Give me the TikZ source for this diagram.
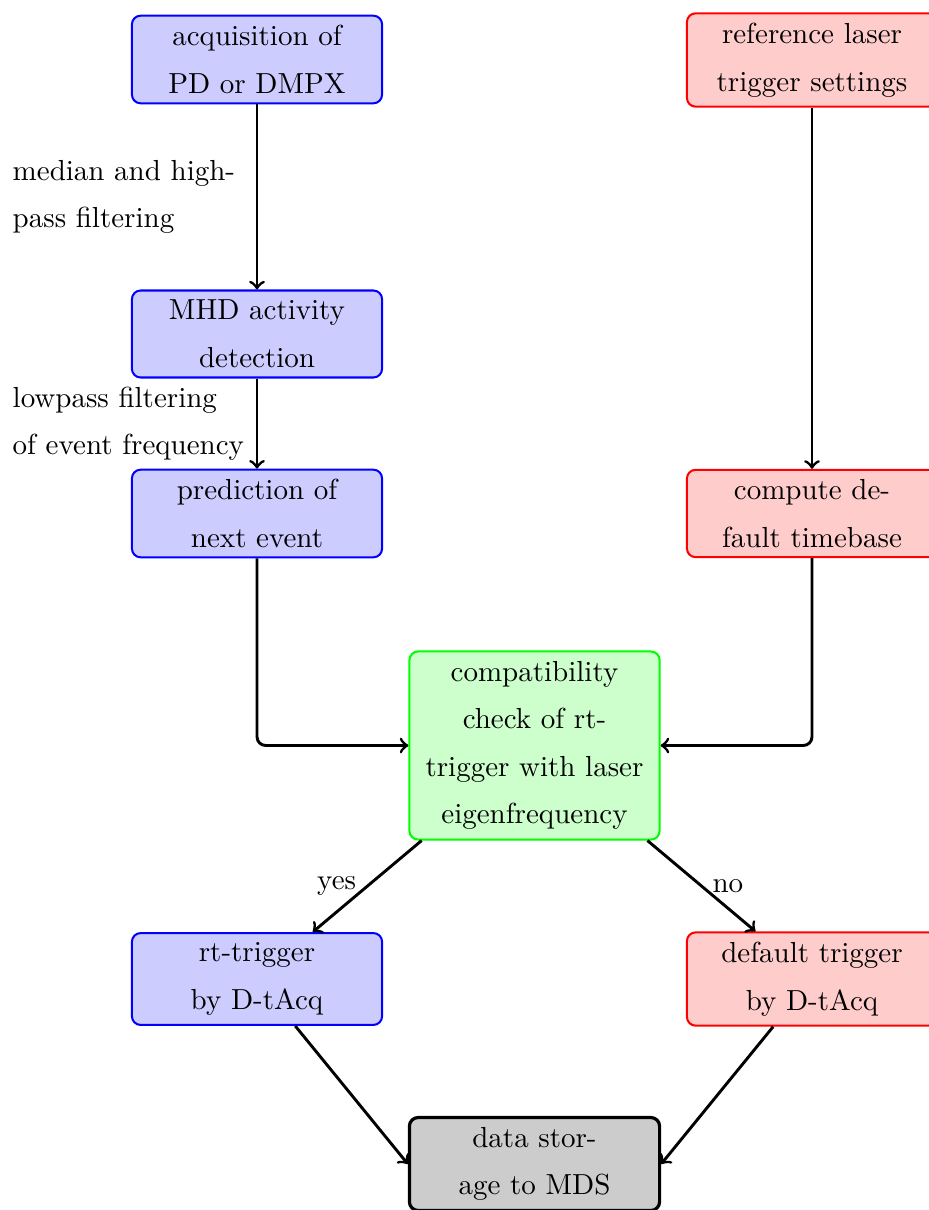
\documentclass[tikz,border=0pt]{standalone}
\begin{document}
\begin{tikzpicture}[x=0.3448pt,y=-0.3448pt,
  box/.style={draw, rounded corners=3pt, line width=0.7pt, text width=79.6pt, align=center,
    inner sep=3.33pt, font=\fontsize{10pt}{16.4pt}\selectfont},
  bluebox/.style={box, draw=blue, fill=blue!20},
  redbox/.style={box, draw=red, fill=red!20},
  greenbox/.style={box, draw=green, fill=green!20},
  graybox/.style={box, draw=black, fill=black!20, line width=1.1pt},
  conn/.style={->, line width=1pt},
  lbl/.style={font=\fontsize{10pt}{16.4pt}\selectfont, text width=80.4pt, align=left, inner sep=3.33pt}]
\useasboundingbox (0,0) rectangle (928,1210);
\node[bluebox] (acq) at (257,59.5) {acquisition of\\PD or DMPX};
\node[redbox] (ref) at (812,60) {reference laser\\trigger settings};
\node[bluebox] (mhd) at (257,334) {MHD activity\\detection};
\node[bluebox] (pred) at (257,513.5) {prediction of\\next event};
\node[redbox] (cdef) at (812,513.5) {compute de-\\fault timebase};
\node[greenbox] (compat) at (534.5,745.5) {compatibility\\check of rt-\\trigger with laser\\eigenfrequency};
\node[bluebox] (rt) at (257,979) {rt-trigger\\by D-tAcq};
\node[redbox] (dtrig) at (812,979) {default trigger\\by D-tAcq};
\node[graybox] (ds) at (534.5,1164) {data stor-\\age to MDS};

\draw[conn] (acq.south) -- (mhd.north) node[midway, left, lbl] {median and high-\\pass filtering};
\draw[conn] (mhd.south) -- (pred.north) node[midway, left, lbl] {lowpass filtering\\of event frequency};
\draw[conn] (ref.south) -- (cdef.north);
\draw[conn, rounded corners=3pt] (pred.south) |- (compat.west);
\draw[conn, rounded corners=3pt] (cdef.south) |- (compat.east);
\draw[conn] (compat) -- (rt) node[midway, left, font=\fontsize{10pt}{12pt}\selectfont] {yes};
\draw[conn] (compat) -- (dtrig) node[midway, right, font=\fontsize{10pt}{12pt}\selectfont] {no};
\draw[conn] (rt) -- (ds.west);
\draw[conn] (dtrig) -- (ds.east);
\end{tikzpicture}
\end{document}
